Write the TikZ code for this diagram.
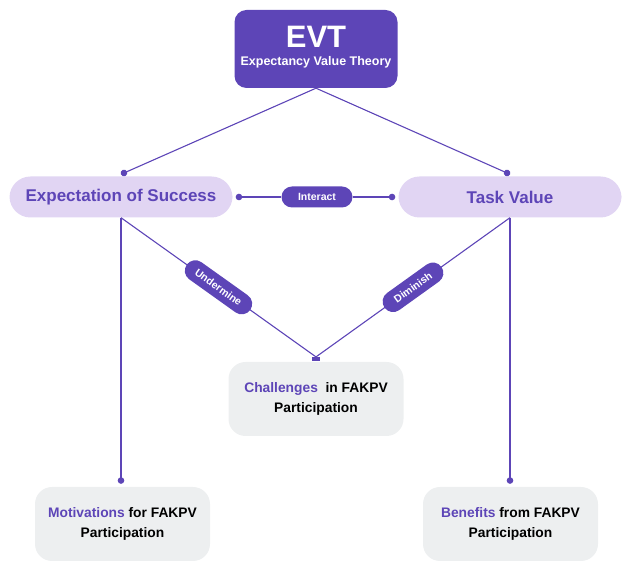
\documentclass[tikz,border=0pt]{standalone}
\usepackage{fontspec}
\setmainfont{Liberation Sans}
\usetikzlibrary{arrows.meta,positioning}
\definecolor{evtpurple}{HTML}{5D45B7}
\definecolor{lavender}{HTML}{E1D5F3}
\definecolor{greybox}{HTML}{EDEFF0}

\begin{document}
\begin{tikzpicture}[x=1pt,y=1pt,font=\bfseries,
link/.style={draw=evtpurple,line width=1.1pt},
tip/.tip={Circle[length=6.5pt,width=6.5pt]}]
\tikzstyle{topbox}=[fill=evtpurple,text=white,rounded corners=12pt,minimum width=163pt,minimum height=78pt,align=center]
\tikzstyle{mainbox}=[fill=lavender,text=evtpurple,rounded corners=21pt,minimum width=223pt,minimum height=41pt,font=\bfseries\fontsize{17}{19}\selectfont]
\tikzstyle{outbox}=[fill=greybox,rounded corners=17pt,minimum width=175pt,minimum height=74pt,align=center,font=\bfseries\fontsize{13.8}{20}\selectfont]
\tikzstyle{pill}=[fill=evtpurple,text=white,rounded corners=10.5pt,minimum height=21pt,inner xsep=8pt,font=\bfseries\fontsize{10.5}{12}\selectfont]
\useasboundingbox (0,0) rectangle (630,565);

\node[topbox] (evt) at (316,516) {{\fontsize{31}{32}\selectfont EVT}\\[6pt]{\fontsize{12.5}{14}\selectfont Expectancy Value Theory}\rule[-7pt]{0pt}{7pt}};
\node[mainbox] (es) at (121,368) {Expectation of Success};
\node[mainbox] (tv) at (510,368) {Task Value};
\node[pill,minimum width=71pt] (int) at (317,368) {Interact};
\node[outbox] (chal) at (316,166) {\textcolor{evtpurple}{Challenges}\ \ in FAKPV\\Participation};
\node[outbox] (mot) at (122.5,41) {\textcolor{evtpurple}{Motivations} for FAKPV\\Participation};
\node[outbox] (ben) at (510.5,41) {\textcolor{evtpurple}{Benefits} from FAKPV\\Participation};
\node[fill=evtpurple,minimum width=8pt,minimum height=3.5pt,inner sep=0pt,anchor=south] (mark) at ([yshift=1pt]chal.north) {};

% theory splits into its two parts
\draw[link,-tip] (evt.south) -- ([yshift=2pt]es.north);
\draw[link,-tip] (evt.south) -- ([yshift=2pt]tv.north);
% the parts work on each other
\draw[link,tip-] ([xshift=3pt]es.east) -- (int);
\draw[link,-tip] (int) -- ([xshift=-3pt]tv.west);
% down to the outcomes
\draw[link,-tip] (es.south) -- ([yshift=3pt]es.south |- mot.north);
\draw[link,-tip] (tv.south) -- ([yshift=3pt]tv.south |- ben.north);
\draw[link] (es.south) -- node[pill,sloped,minimum width=78pt] {Undermine} (mark.north);
\draw[link] (tv.south) -- node[pill,sloped,minimum width=70pt] {Diminish} (mark.north);
\end{tikzpicture}
\end{document}
